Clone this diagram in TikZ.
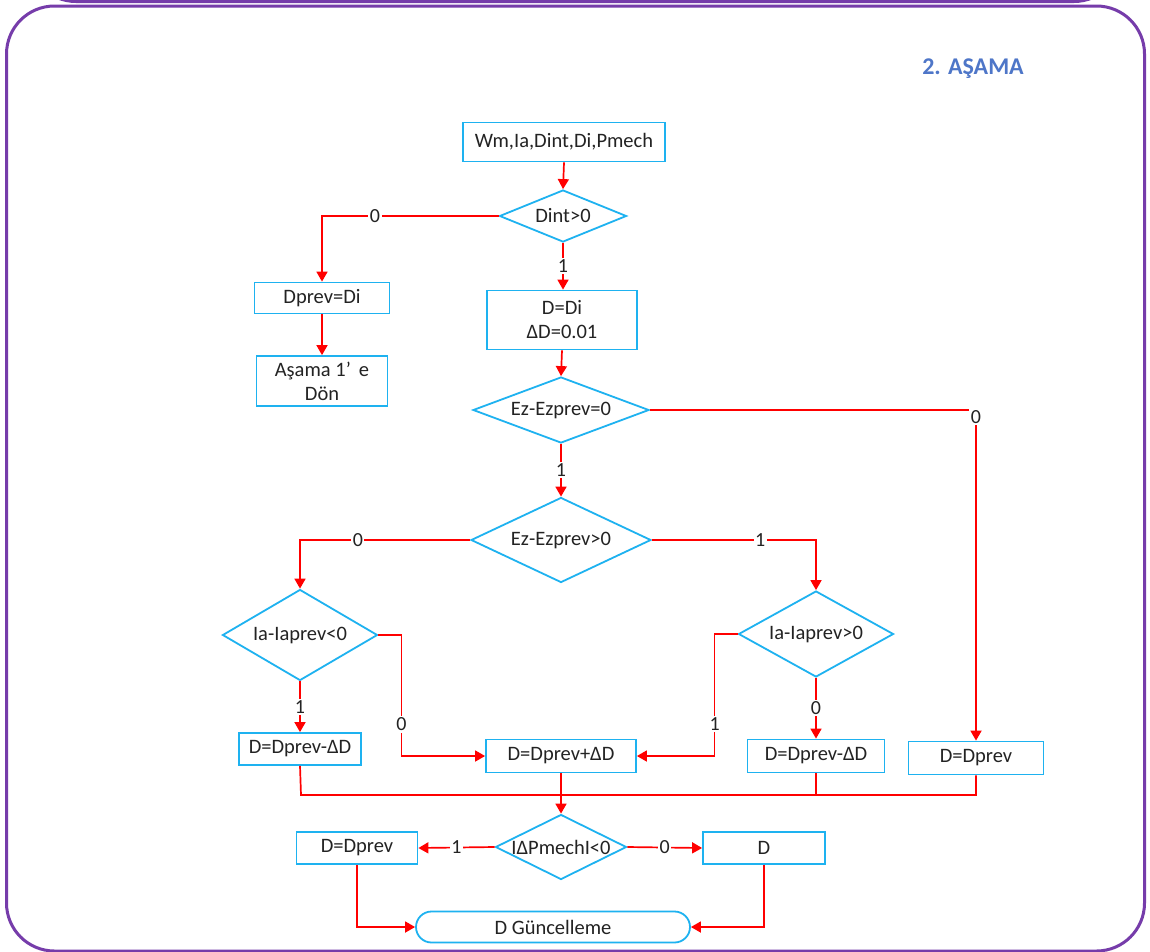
\documentclass[tikz,border=0pt]{standalone}
\usepackage{fontspec}
\setmainfont{Carlito}
\usetikzlibrary{shapes.geometric,arrows.meta}
\definecolor{boxblue}{RGB}{30,178,240}
\definecolor{framepurple}{RGB}{118,60,170}
\definecolor{titleblue}{RGB}{78,118,200}
\definecolor{txt}{RGB}{35,35,35}
\tikzset{
  stepbox/.style={draw=boxblue, line width=1.8pt, fill=white, inner sep=0pt,
    font=\fontsize{20.5}{24}\selectfont, text=txt, align=center},
  decision/.style={diamond, draw=boxblue, line width=1.8pt, fill=white, inner sep=0pt,
    font=\fontsize{20.5}{24}\selectfont, text=txt},
  flow/.style={draw=red, line width=1.7pt, -{Triangle[length=10pt,width=11pt]}},
  wire/.style={draw=red, line width=1.7pt},
  lab/.style={fill=white, inner sep=1.5pt, font=\fontsize{20}{22}\selectfont, text=txt},
  frame/.style={draw=framepurple, line width=3pt, rounded corners=48pt}
}
\newcommand{\dtext}[1]{\makebox[0pt]{#1}}
\begin{document}
\begin{tikzpicture}[x=1pt,y=-1pt]
\useasboundingbox (0,0) rectangle (1150,951);
\clip (0,0) rectangle (1150,951);
\fill[white] (0,0) rectangle (1150,951);
% outer frames
\draw[frame] (28,-200) rectangle (1122,1.5);
\draw[frame] (6.5,6) rectangle (1144.5,951);
% title
\node[font=\fontsize{24}{26}\selectfont\bfseries, text=titleblue] (title) at (973,69) {2. AŞAMA};

% nodes
\node[stepbox, minimum width=202pt, minimum height=39pt] (in) at (564,142) {Wm,Ia,Dint,Di,Pmech};
\node[decision, minimum width=127pt, minimum height=52pt] (d1) at (563,216) {\dtext{Dint>0}};
\node[stepbox, minimum width=135pt, minimum height=31pt] (b2) at (322,298) {Dprev=Di};
\node[stepbox, minimum width=131pt, minimum height=50pt] (b3) at (322,381) {Aşama 1'\,\ e\\Dön};
\node[stepbox, minimum width=150pt, minimum height=59pt] (b4) at (562,320) {D=Di\\ΔD=0.01};
\node[decision, minimum width=176pt, minimum height=66pt] (d2) at (561,410) {\dtext{Ez-Ezprev=0}};
\node[decision, minimum width=180pt, minimum height=85pt] (d3) at (561,540) {\dtext{Ez-Ezprev>0}};
\node[decision, minimum width=155pt, minimum height=91pt] (d4) at (300,635) {\dtext{Ia-Iaprev<0}};
\node[decision, minimum width=155pt, minimum height=86pt] (d5) at (816,634) {\dtext{Ia-Iaprev>0}};
\node[stepbox, minimum width=122pt, minimum height=32pt] (l1) at (300,749) {D=Dprev-ΔD};
\node[stepbox, minimum width=150pt, minimum height=33pt] (m1) at (561,756) {D=Dprev+ΔD};
\node[stepbox, minimum width=137pt, minimum height=33pt] (r1) at (816,756) {D=Dprev-ΔD};
\node[stepbox, minimum width=135pt, minimum height=33pt] (r4) at (976,758) {D=Dprev};
\node[decision, minimum width=131pt, minimum height=65pt] (d6) at (561,847) {\dtext{IΔPmechI<0}};
\node[stepbox, minimum width=121pt, minimum height=32pt] (q1) at (357,848) {D=Dprev};
\node[stepbox, minimum width=122pt, minimum height=32pt] (q2) at (764,848) {D};
\node[stepbox, minimum width=274pt, minimum height=31pt, rounded corners=15.5pt] (t) at (553,927) {D Güncelleme};
\coordinate (bus) at (301,795);

% connectors
\draw[flow] (in.south) -- (d1.north);
\draw[flow] (d1.west) -| node[lab, pos=0.35] {0} (b2.north);
\draw[flow] (b2.south) -- (b3.north);
\draw[flow] (d1.south) -- node[lab] {1} (d1.south |- b4.north);
\draw[flow] (b4.south) -- (d2.north);
\draw[flow] (d2.east) -| node[lab, pos=0.51] {0} (r4.north);
\draw[flow] (d2.south) -- node[lab] {1} (d3.north);
\draw[flow] (d3.west) -| node[lab, pos=0.33] {0} (d4.north);
\draw[flow] (d3.east) -| node[lab, pos=0.33] {1} (d5.north);
\draw[flow] (d4.south) -- node[lab] {1} (l1.north);
\draw[flow] (d4.east) -- ++(23,0) |- node[lab, pos=0.37] {0} (m1.west);
\draw[flow] (d5.west) -- ++(-23,0) |- node[lab, pos=0.37] {1} (m1.east);
\draw[flow] (d5.south) -- node[lab] {0} (r1.north);
\draw[wire] (l1.south) -- (bus) -| (r4.south);
\draw[wire] (r1.south) -- (r1.south |- bus);
\draw[flow] (m1.south) -- (d6.north);
\draw[flow] (d6.west) -- node[lab] {1} (q1.east);
\draw[flow] (d6.east) -- node[lab] {0} (q2.west);
\draw[flow] (q1.south) |- (t.west);
\draw[flow] (q2.south) |- (t.east);
\end{tikzpicture}
\end{document}
